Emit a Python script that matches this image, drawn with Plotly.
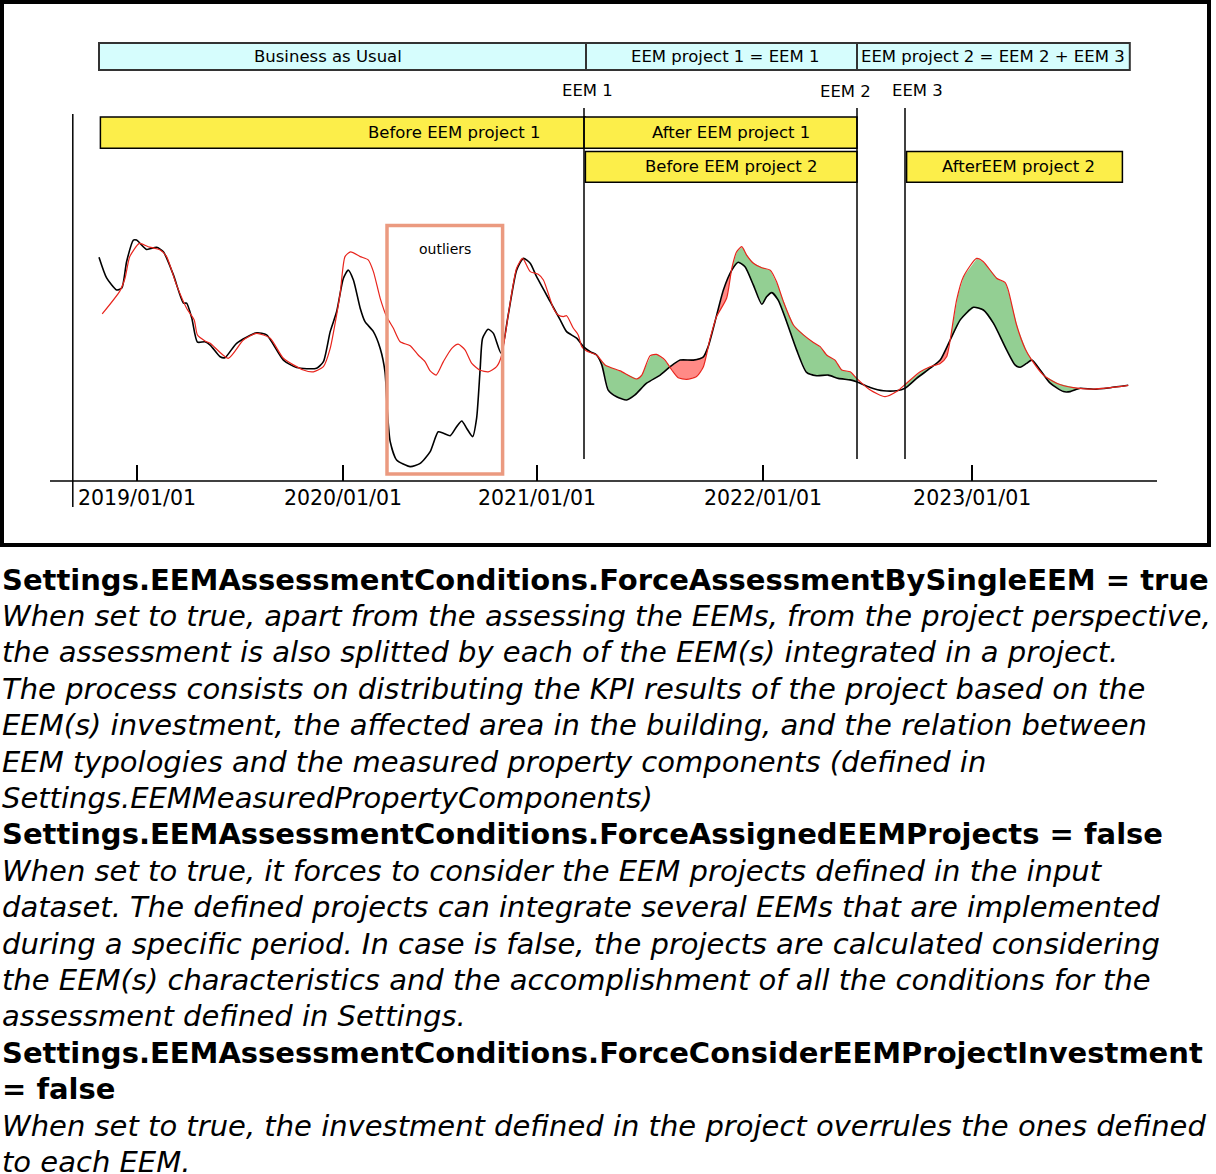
import numpy as np
import plotly.graph_objects as go

# ---------------- data (x: weeks since 2019-01-01, schematic; y: consumption index) ----------------
black_x = [-9.5, -7.6, -5.1, -3.8, -2.6, -0.9, -0.1, 2.4, 4.9, 6.6, 9.1, 11.6, 12.4, 13.7, 15.1, 17.0, 18.3,
           20.8, 22.0, 24.9, 29.9, 32.4, 36.6, 39.9, 44.9, 46.6, 48.3, 49.9, 51.6, 52.8, 54.1, 55.8, 57.0,
           59.1, 60.8, 62.0, 62.6, 63.3, 64.9, 68.3, 70.8, 73.3, 75.3, 76.6, 78.3, 79.9, 81.2, 82.4, 83.9,
           84.9, 85.8, 86.4, 87.8, 89.1, 91.0, 92.8, 94.9, 96.6, 98.3, 99.9, 103.3, 105.8, 107.4, 109.9,
           111.6, 113.3, 114.9, 116.2, 117.8, 119.9, 122.4, 124.5, 127.4, 130.8, 133.3, 135.8, 139.1, 141.6,
           142.8, 144.5, 146.6, 148.7, 150.3, 152.0, 154.1, 156.2, 157.4, 158.7, 160.3, 162.4, 164.9, 167.4,
           169.9, 172.8, 175.3, 178.3, 179.9, 183.3, 186.6, 189.9, 192.0, 194.9, 198.3, 200.8, 203.3, 205.8,
           209.1, 211.6, 214.1, 217.4, 219.5, 220.8, 222.4, 223.7, 225.8, 228.3, 231.6, 233.3, 235.8, 239.1,
           243.3, 247.8]
black_y = [74.6, 67.7, 63.7, 64.3, 73.1, 80.3, 80.3, 77.2, 77.9, 76.4, 68.7, 59.3, 59.3, 54.3, 46.3, 46.4, 45.3,
           41.4, 41.1, 45.9, 49.4, 48.7, 40.3, 37.8, 37.6, 39.8, 49.8, 56.4, 67.6, 70.3, 67.0, 57.6, 53.1,
           49.8, 44.2, 36.4, 23.1, 13.1, 7.0, 4.8, 5.9, 9.8, 16.4, 15.9, 15.1, 18.1, 20.0, 17.6, 14.8,
           20.9, 37.6, 47.6, 50.6, 49.2, 42.6, 55.3, 70.3, 74.2, 72.6, 68.1, 59.8, 53.7, 49.8, 47.6,
           44.8, 43.1, 42.0, 38.7, 30.3, 28.1, 27.0, 28.7, 32.6, 35.3, 38.1, 40.3, 40.3, 41.4,
           44.8, 53.1, 63.7, 70.3, 72.9, 71.4, 65.3, 58.9, 61.4, 62.8, 60.3, 53.1, 43.7, 36.2,
           35.1, 35.3, 34.2, 33.7, 33.1, 31.2, 30.1, 30.1, 30.9, 34.2, 37.6, 40.3, 47.0, 53.7,
           57.9, 57.0, 52.6, 43.7, 38.7, 37.9, 39.2, 40.3, 37.0, 32.6, 29.8, 29.8, 30.9, 30.6,
           31.1, 31.9]

red_x = [-8.7, -4.3, -3.0, -1.8, 0.6, 2.8, 5.8, 7.4, 9.9, 12.4, 14.3, 15.1, 17.0, 18.3, 22.8, 26.6, 29.9,
         33.3, 36.6, 41.6, 44.1, 46.6, 48.3, 49.9, 50.8, 52.0, 53.4, 55.8, 57.8, 59.1, 60.8, 62.4, 64.1, 65.8,
         68.3, 70.3, 72.0, 73.3, 74.8, 76.6, 78.7, 80.3, 82.0, 83.7, 85.8, 87.8, 89.9, 91.2, 92.8, 94.9,
         96.4, 98.3, 100.3, 101.6, 104.1, 105.3, 106.6, 107.4, 109.1, 110.3, 111.2, 112.4, 114.9, 117.0,
         120.8, 124.9, 126.2, 128.3, 129.9, 132.0, 133.7, 135.3, 137.4, 139.9, 141.6, 143.3, 144.9, 147.4,
         148.7, 149.9, 151.2, 152.4, 154.1, 156.2, 158.3, 159.9, 161.6, 164.1, 166.6, 169.1, 170.8, 172.4,
         174.5, 176.2, 178.3, 179.9, 183.3, 187.0, 189.9, 192.4, 195.8, 198.3, 200.8, 202.4, 203.3, 204.9,
         206.6, 209.9, 211.6, 214.9, 217.0, 217.8, 219.9, 222.0, 223.7, 226.6, 229.9, 234.1, 238.3, 243.3,
         247.8]
red_y = [55.7, 63.3, 67.6, 74.8, 79.2, 78.1, 77.0, 74.8, 65.3, 57.6, 53.7, 48.7, 46.7, 45.9, 40.9, 47.0, 49.2,
         47.6, 40.9, 37.0, 36.4, 38.1, 44.2, 55.3, 62.6, 74.8, 76.4, 74.8, 73.7, 69.8, 60.9, 54.8, 50.9, 46.4,
         45.1, 42.0, 39.8, 36.7, 35.3, 39.8, 44.2, 45.6, 43.7, 39.2, 36.9, 36.4, 38.1, 42.0, 55.3, 70.9,
         74.2, 69.8, 68.9, 67.0, 57.6, 55.3, 54.8, 55.1, 50.9, 48.7, 44.8, 43.3, 42.0, 38.7,
         36.7, 34.0, 35.3, 41.8, 42.2, 40.3, 37.0, 34.4, 33.9, 34.8, 38.1, 47.6, 54.8, 60.9,
         70.9, 76.4, 78.1, 75.3, 72.6, 71.1, 70.3, 66.4, 59.8, 52.0, 48.7, 46.2, 44.8, 42.0,
         40.3, 37.0, 36.4, 34.2, 30.3, 28.1, 29.8, 32.6, 36.4, 38.1, 39.2, 41.4, 47.0, 60.3,
         68.1, 74.2, 73.1, 67.6, 66.2, 63.7, 52.0, 44.2, 40.3, 35.3, 32.6, 31.1, 30.6, 31.1,
         31.9]

tick_vals = [0.0, 51.5, 100.0, 156.5, 208.8]
tick_text = ["2019/01/01", "2020/01/01", "2021/01/01", "2022/01/01", "2023/01/01"]

eem_labels = ["EEM 1", "EEM 2", "EEM 3"]
eem_dates = [111.75, 180.0, 192.0]

phase_labels = ["Business as Usual", "EEM project 1 = EEM 1", "EEM project 2 = EEM 2 + EEM 3"]
phase_start = [-9.5, 112.25, 180.0]
phase_end = [112.25, 180.0, 248.2]

period_labels = ["Before EEM project 1", "After EEM project 1", "Before EEM project 2", "AfterEEM project 2"]
period_start = [-9.15, 111.75, 112.1, 192.4]
period_end = [112.0, 180.0, 180.0, 246.35]

outlier_label = "outliers"
outlier_start, outlier_end = 62.5, 91.4
outlier_low, outlier_high = 2.3, 85.2

assessment_windows = [(eem_dates[0], eem_dates[1]), (eem_dates[2], black_x[-1])]

text_lines = [
    ("b", "Settings.EEMAssessmentConditions.ForceAssessmentBySingleEEM = true"),
    ("i", "When set to true, apart from the assessing the EEMs, from the project perspective,"),
    ("i", "the assessment is also splitted by each of the EEM(s) integrated in a project."),
    ("i", "The process consists on distributing the KPI results of the project based on the"),
    ("i", "EEM(s) investment, the affected area in the building, and the relation between"),
    ("i", "EEM typologies and the measured property components (defined in"),
    ("i", "Settings.EEMMeasuredPropertyComponents)"),
    ("b", "Settings.EEMAssessmentConditions.ForceAssignedEEMProjects = false"),
    ("i", "When set to true, it forces to consider the EEM projects defined in the input"),
    ("i", "dataset. The defined projects can integrate several EEMs that are implemented"),
    ("i", "during a specific period. In case is false, the projects are calculated considering"),
    ("i", "the EEM(s) characteristics and the accomplishment of all the conditions for the"),
    ("i", "assessment defined in Settings."),
    ("b", "Settings.EEMAssessmentConditions.ForceConsiderEEMProjectInvestment"),
    ("b", "= false"),
    ("i", "When set to true, the investment defined in the project overrules the ones defined"),
    ("i", "to each EEM."),
]

# ---------------- layout constants ----------------
W, H = 1216, 1174
FONT = "DejaVu Sans"
AXIS_PX = 481          # pixel row of the time axis
PX_PER_WEEK = 4.0
ORIGIN_PX = 137        # pixel column of week 0
PX_PER_UNIT = 3.0

def yp(p):
    return 1 - p / H

x_range = [(0 - ORIGIN_PX) / PX_PER_WEEK, (W - ORIGIN_PX) / PX_PER_WEEK]
y_range = [(AXIS_PX - H) / PX_PER_UNIT, AXIS_PX / PX_PER_UNIT]

GREEN = "#93cf93"
REDFILL = "#ff8a86"
REDLINE = "#e8241c"
CYAN = "#d6fdfd"
YELLOW = "#fcee4a"

fig = go.Figure()

# -------- filled differences (only after the EEMs) --------
for (a, b) in assessment_windows:
    grid = np.append(np.arange(a, b, 0.25), b)
    bv = np.interp(grid, black_x, black_y)
    rv = np.interp(grid, red_x, red_y)
    top = np.maximum(bv, rv)
    fig.add_trace(go.Scatter(x=grid, y=bv, mode="lines", line=dict(width=0), hoverinfo="skip"))
    fig.add_trace(go.Scatter(x=grid, y=top, mode="lines", line=dict(width=0), fill="tonexty",
                             fillcolor=GREEN, hoverinfo="skip"))
    fig.add_trace(go.Scatter(x=grid, y=rv, mode="lines", line=dict(width=0), hoverinfo="skip"))
    fig.add_trace(go.Scatter(x=grid, y=top, mode="lines", line=dict(width=0), fill="tonexty",
                             fillcolor=REDFILL, hoverinfo="skip"))

fig.add_trace(go.Scatter(x=black_x, y=black_y, mode="lines",
                         line=dict(color="black", width=1.6, shape="spline", smoothing=0.6),
                         hoverinfo="skip"))
fig.add_trace(go.Scatter(x=red_x, y=red_y, mode="lines",
                         line=dict(color=REDLINE, width=1.2, shape="spline", smoothing=0.6),
                         hoverinfo="skip"))

shapes = []
annotations = []

# frame
shapes.append(dict(type="rect", xref="paper", yref="paper", x0=2 / W, x1=1209 / W, y0=yp(2), y1=yp(545),
                   line=dict(color="black", width=4), fillcolor="rgba(0,0,0,0)", layer="above"))
# time axis line and left guide line
shapes.append(dict(type="line", xref="x", yref="paper", x0=(50 - ORIGIN_PX) / PX_PER_WEEK,
                   x1=(1157 - ORIGIN_PX) / PX_PER_WEEK, y0=yp(AXIS_PX), y1=yp(AXIS_PX),
                   line=dict(color="black", width=1.5)))
shapes.append(dict(type="line", xref="x", yref="paper", x0=-16.05, x1=-16.05, y0=yp(114), y1=yp(507),
                   line=dict(color="black", width=1.5)))

# EEM implementation lines + labels
eem_label_dx = [0.75, -2.9, 3.2]
eem_label_py = [90.8, 91.7, 90.8]
for lab, d, dx, lp in zip(eem_labels, eem_dates, eem_label_dx, eem_label_py):
    shapes.append(dict(type="line", xref="x", yref="paper", x0=d, x1=d, y0=yp(108), y1=yp(459),
                       line=dict(color="black", width=1.5)))
    annotations.append(dict(x=d + dx, y=yp(lp), xref="x", yref="paper", text=lab, showarrow=False,
                            font=dict(family=FONT, size=16.5, color="black"),
                            xanchor="center", yanchor="middle"))

# project phases (cyan)
phase_label_dx = [-3.6, 0.9, 0.0]
for lab, s, e, dx in zip(phase_labels, phase_start, phase_end, phase_label_dx):
    shapes.append(dict(type="rect", xref="x", yref="paper", x0=s, x1=e, y0=yp(43), y1=yp(70),
                       fillcolor=CYAN, line=dict(color="#333333", width=2), layer="below"))
    annotations.append(dict(x=(s + e) / 2 + dx, y=yp(56.5), xref="x", yref="paper", text=lab,
                            showarrow=False, font=dict(family=FONT, size=16.5, color="black"),
                            xanchor="center", yanchor="middle"))

# assessment periods (yellow)
period_row = [0, 0, 1, 1]
row_top = [117, 151.5]
row_bot = [148.3, 182.3]
period_label_dx = [27.9, 2.5, 2.5, 1.0]
for lab, s, e, r, dx in zip(period_labels, period_start, period_end, period_row, period_label_dx):
    shapes.append(dict(type="rect", xref="x", yref="paper", x0=s, x1=e, y0=yp(row_top[r]), y1=yp(row_bot[r]),
                       fillcolor=YELLOW, line=dict(color="black", width=1.5), layer="below"))
    annotations.append(dict(x=(s + e) / 2 + dx, y=yp((row_top[r] + row_bot[r]) / 2), xref="x", yref="paper",
                            text=lab, showarrow=False, font=dict(family=FONT, size=16.5, color="black"),
                            xanchor="center", yanchor="middle"))

# outliers box
shapes.append(dict(type="rect", xref="x", yref="y", x0=outlier_start, x1=outlier_end,
                   y0=outlier_low, y1=outlier_high, line=dict(color="#eb9a80", width=3.5),
                   fillcolor="rgba(0,0,0,0)", layer="above"))
annotations.append(dict(x=(outlier_start + outlier_end) / 2, y=yp(249), xref="x", yref="paper",
                        text=outlier_label, showarrow=False, font=dict(family=FONT, size=14, color="black"),
                        xanchor="center", yanchor="middle"))

# description text
for k, (style, txt) in enumerate(text_lines):
    t = f"<b>{txt}</b>" if style == "b" else f"<i>{txt}</i>"
    annotations.append(dict(x=0, y=yp(579.6 + 36.4 * k), xref="paper", yref="paper", text=t,
                            showarrow=False, font=dict(family=FONT, size=29, color="black"),
                            xanchor="left", yanchor="middle", align="left"))

fig.update_layout(
    width=W, height=H, margin=dict(l=0, r=0, t=0, b=0),
    paper_bgcolor="white", plot_bgcolor="white", showlegend=False, hovermode=False,
    shapes=shapes, annotations=annotations,
    xaxis=dict(domain=[0, 1], range=x_range, anchor="free", position=yp(AXIS_PX),
               showgrid=False, zeroline=False, showline=False,
               tickmode="array", tickvals=tick_vals, ticktext=tick_text,
               ticks="inside", ticklen=16, tickwidth=1.5, tickcolor="black", ticklabelstandoff=2,
               tickfont=dict(family=FONT, size=20.5, color="black")),
    yaxis=dict(domain=[0, 1], range=y_range, visible=False, showgrid=False, zeroline=False),
)

fig.write_html("out.html", config={"displayModeBar": False})
